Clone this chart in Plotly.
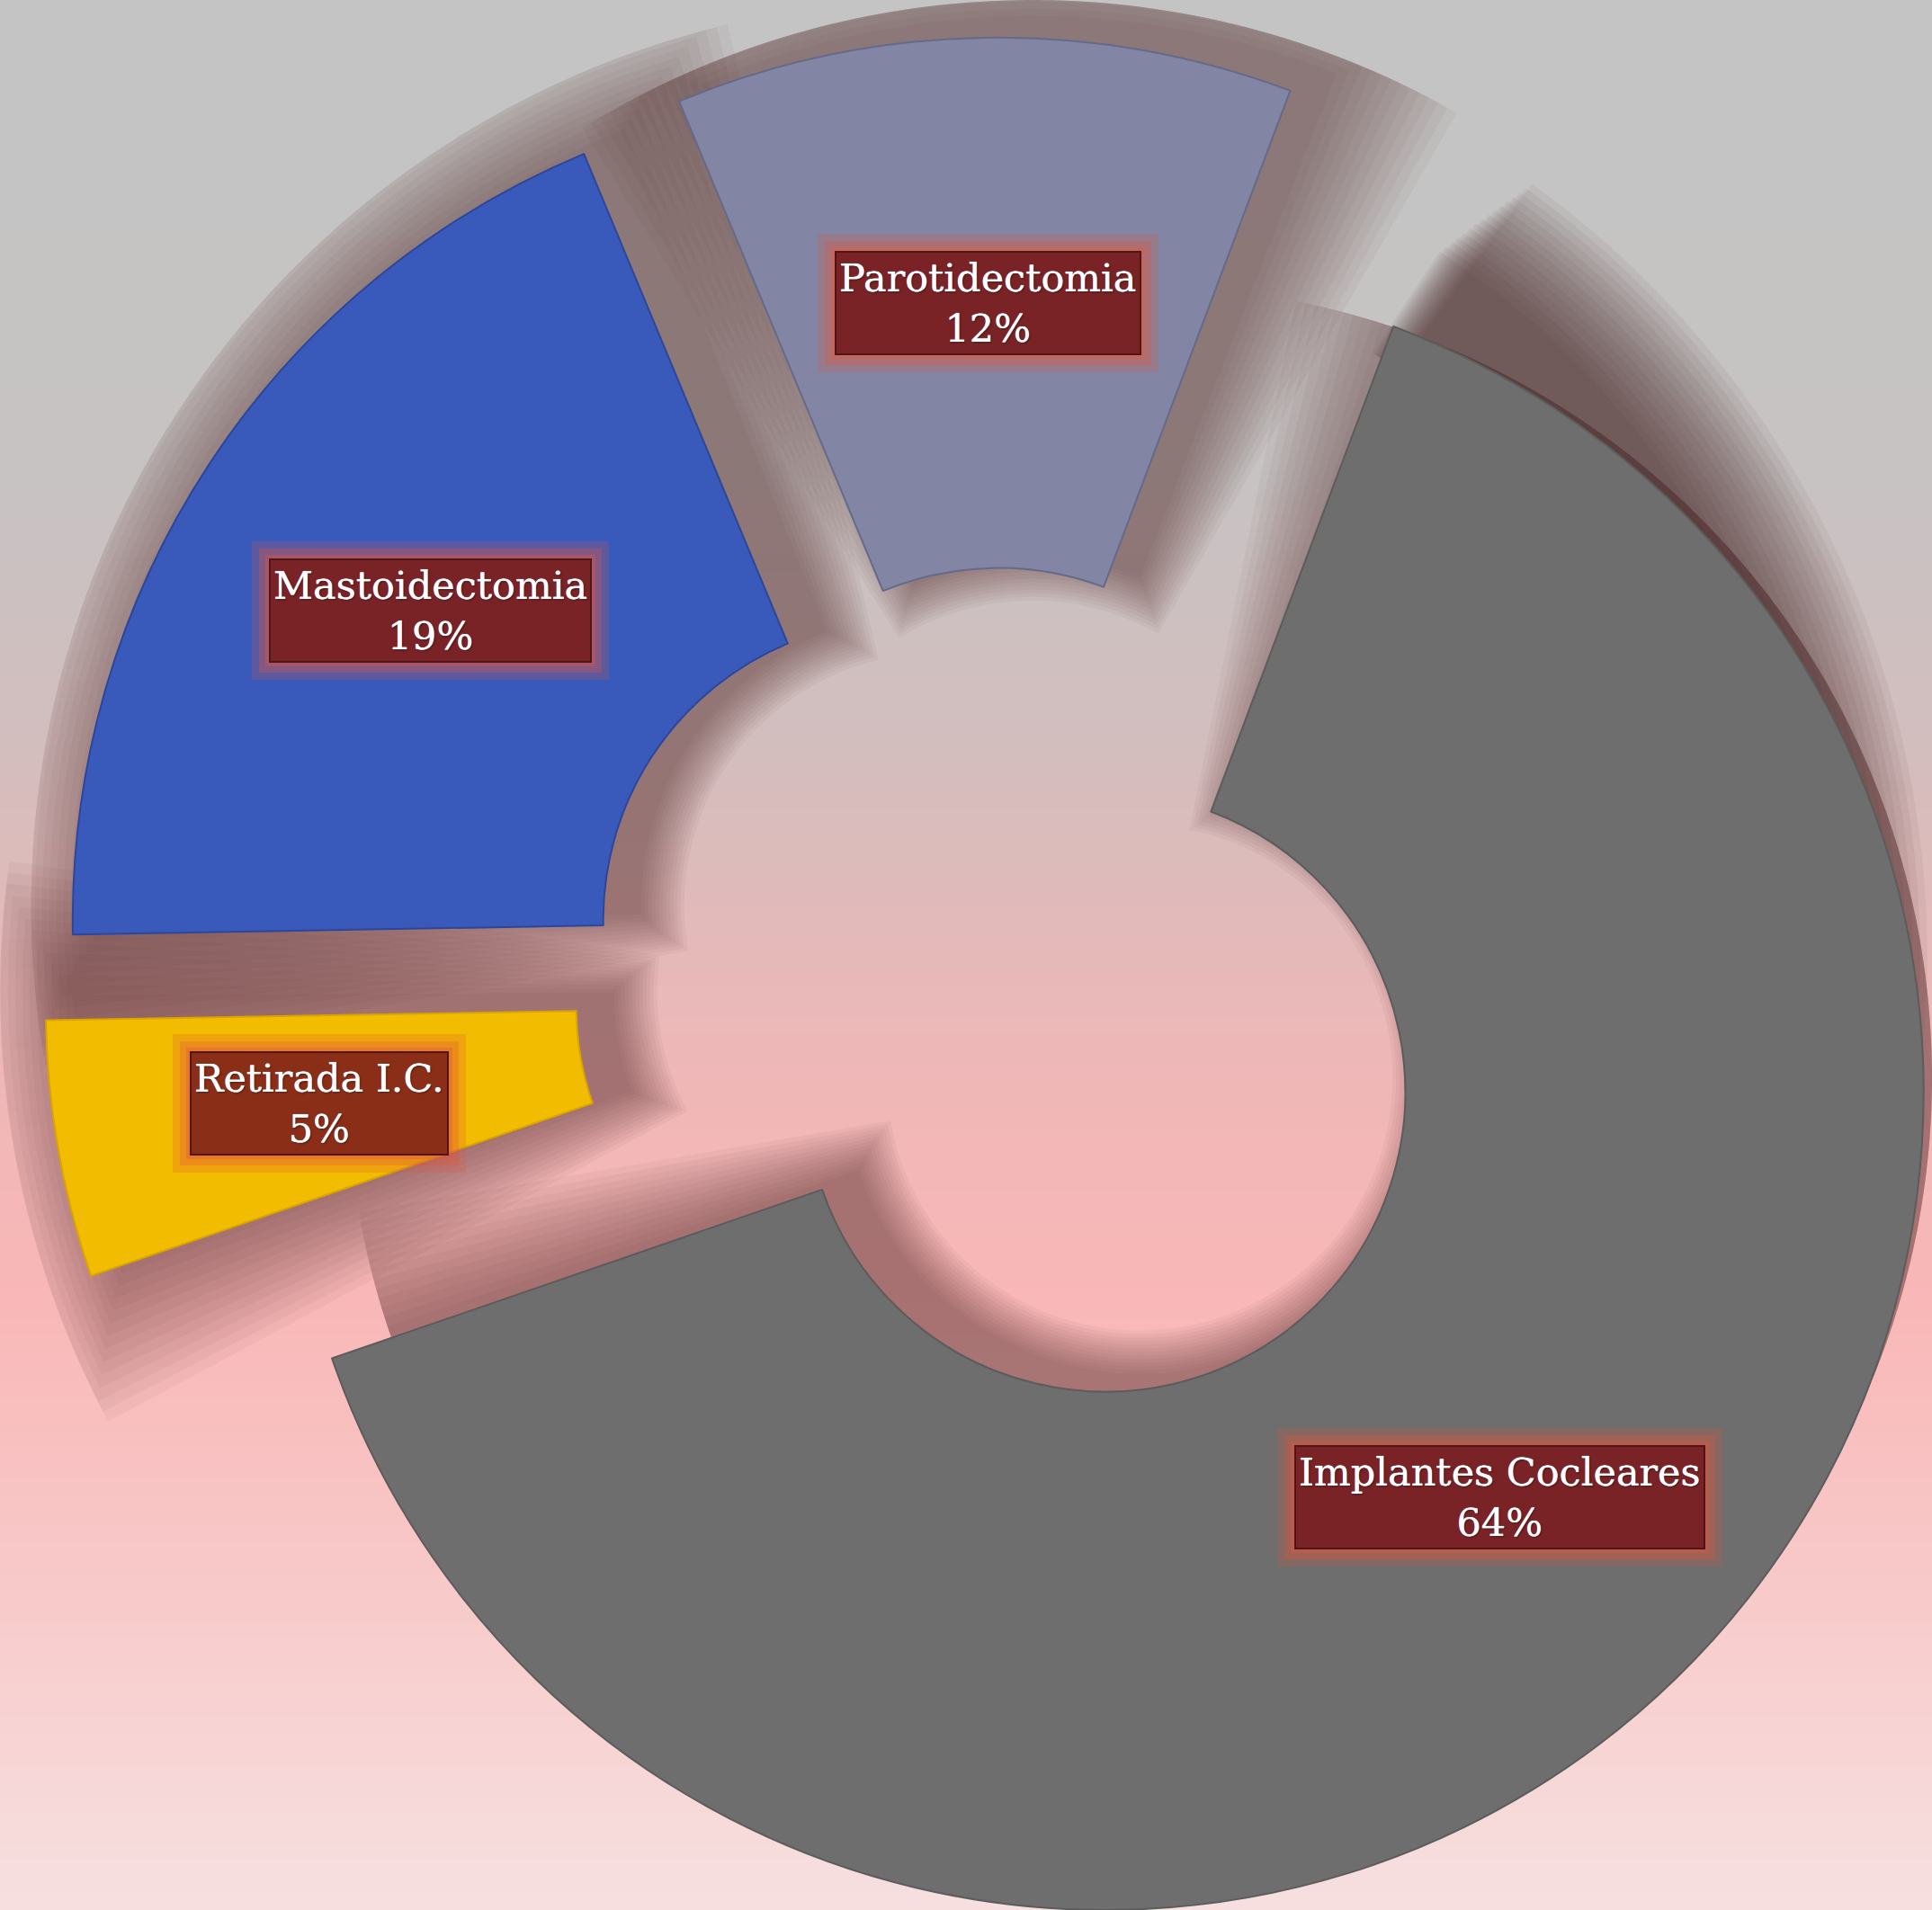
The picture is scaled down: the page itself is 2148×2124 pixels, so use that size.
import math
import plotly.graph_objects as go

# ---------------- data ----------------
labels = ["Implantes Cocleares", "Retirada I.C.", "Mastoidectomia", "Parotidectomia"]
values = [64, 5, 19, 12]

# ---------------- styles ----------------
pulls = [0.182, 0.152, 0.140, 0.140]
slice_colors = ["#6e6e6e", "#f2bc00", "#3a5abb", "#8286a4"]
edge_colors = ["#5c5c5c", "#d9a400", "#2c4699", "#666a8a"]
label_bg = ["#7a2327", "#8a2e18", "#7a2327", "#7a2327"]
start_angle = 20.6      # degrees clockwise from 12 o'clock
hole = 0.361

W, H = 2148, 2124
R = 923.0
CX, CY = 1112.0, 1094.0
SH_DX, SH_DY = 38.0, -16.0
SH_COLOR = "rgba(75,40,35,0.047)"

total = float(sum(values))


def domain_for(cx, cy, r):
    r_av = min(cx, W - cx, cy, H - cy, r)
    x0 = max(0.0, min(1.0, (cx - r_av) / W))
    x1 = max(0.0, min(1.0, (cx + r_av) / W))
    y0 = max(0.0, min(1.0, 1 - (cy + r_av) / H))
    y1 = max(0.0, min(1.0, 1 - (cy - r_av) / H))
    return dict(x=[x0, x1], y=[y0, y1]), r_av


def norm_rot(a):
    a = a % 360.0
    if a > 180:
        a -= 360.0
    return a


def ang_from(px, py, ox, oy):
    return math.degrees(math.atan2(px - ox, -(py - oy))) % 360.0


def shadow_pie(cx, cy, r_out_wanted, r_in, rot, span, alpha_color):
    dom, r_out = domain_for(cx, cy, r_out_wanted)
    span = max(0.5, min(359.0, span))
    return go.Pie(
        values=[span, 360 - span], labels=["a", "b"],
        sort=False, direction="clockwise", rotation=norm_rot(rot),
        hole=max(0.0, min(0.99, r_in / r_out)), domain=dom,
        marker=dict(colors=[alpha_color, "rgba(0,0,0,0)"], line=dict(width=0)),
        textinfo="none", hoverinfo="skip", showlegend=False,
    )


fig = go.Figure()

# geometry of every slice derived from the values
geo = []
acc = 0.0
for i, v in enumerate(values):
    span = v / total * 360.0
    start = start_angle + acc / total * 360.0
    mid = math.radians(start + span / 2)
    cx = CX + pulls[i] * R * math.sin(mid)
    cy = CY - pulls[i] * R * math.cos(mid)
    geo.append((start, span, mid, cx, cy))
    acc += v

# ---------- soft shadows (concentric layers) ----------
shadow_steps = list(range(104, 0, -8))
for i, v in enumerate(values):
    start, span, mid, cx, cy = geo[i]
    for e in shadow_steps:
        d = math.degrees(e / (0.7 * R))
        fig.add_trace(shadow_pie(cx + SH_DX, cy + SH_DY, R + e,
                                 max(0.0, hole * R - 0.5 * e),
                                 start - d, span + 2 * d, SH_COLOR))

# ---------- top-right spill of the big slice's shadow (its circle cannot fit the page) ----------
start, span, mid, cx, cy = geo[0]
bx, by = math.sin(mid), -math.cos(mid)
k = 210.0
ox, oy = cx - k * bx, cy - k * by
r_max = min(ox, W - ox, oy, H - oy)
px, py = cx + R * math.sin(math.radians(start)), cy - R * math.cos(math.radians(start))
th_s = ang_from(px, py, ox, oy)
th_e = 100.0
r_hole = 805.0
for j in range(16):
    rr = r_max - 8 * j
    s0 = th_s + 2.4 - 0.16 * j
    fig.add_trace(shadow_pie(ox, oy, rr, r_hole, s0, th_e - s0, "rgba(75,40,35,0.058)"))

# ---------- slices ----------
for i, v in enumerate(values):
    start, span, mid, cx, cy = geo[i]
    dom, r_out = domain_for(cx, cy, R)
    fig.add_trace(go.Pie(
        values=[v, total - v],
        labels=[labels[i], labels[i] + " "],
        sort=False, direction="clockwise",
        rotation=norm_rot(start),
        hole=min(0.99, hole * R / r_out),
        domain=dom,
        marker=dict(colors=[slice_colors[i], "rgba(0,0,0,0)"],
                    line=dict(color=[edge_colors[i], "rgba(0,0,0,0)"], width=[2, 0])),
        textinfo="none",
        hovertemplate=labels[i] + ": %d%%<extra></extra>" % v,
        showlegend=False,
    ))

# ---------- labels ----------
annotations = []
ring_mid = (1 + hole) / 2
for i, v in enumerate(values):
    start, span, mid, cx, cy = geo[i]
    lx = cx + ring_mid * R * math.sin(mid)
    ly = cy - ring_mid * R * math.cos(mid)
    txt = "%s<br>%d%%" % (labels[i], v)
    for pad, col in [(24, "rgba(225,85,60,0.22)"), (16, "rgba(225,85,60,0.3)"), (9, "rgba(225,85,60,0.35)")]:
        annotations.append(dict(
            x=lx / W, y=1 - ly / H, xref="paper", yref="paper",
            text=txt, showarrow=False, xanchor="center", yanchor="middle",
            font=dict(family="DejaVu Serif", size=43, color="rgba(0,0,0,0)"),
            bgcolor=col, borderpad=pad, borderwidth=0,
        ))
    annotations.append(dict(
        x=lx / W, y=1 - ly / H, xref="paper", yref="paper",
        text=txt, showarrow=False, xanchor="center", yanchor="middle",
        font=dict(family="DejaVu Serif", size=43, color="#ffffff",
                  shadow="0 0 0.8px #ffffff, 1px 1px 2px rgba(0,0,0,0.55)"),
        bgcolor=label_bg[i], bordercolor="#521517", borderwidth=2, borderpad=3,
    ))

# ---------- background gradient ----------
stops = [(0.0, (196, 196, 196)), (0.25, (199, 195, 195)), (0.40, (212, 189, 189)),
         (0.55, (238, 183, 183)), (0.68, (249, 183, 183)), (0.85, (248, 204, 204)),
         (1.0, (247, 224, 224))]


def grad(t):
    for (a, ca), (b, cb) in zip(stops[:-1], stops[1:]):
        if a <= t <= b:
            f = (t - a) / (b - a)
            return tuple(int(round(ca[n] + (cb[n] - ca[n]) * f)) for n in range(3))
    return stops[-1][1]


shapes = []
N = 120
for kk in range(N):
    t = (kk + 0.5) / N
    c = grad(t)
    shapes.append(dict(type="rect", xref="paper", yref="paper",
                       x0=0, x1=1, y0=1 - (kk + 1) / N - 0.001, y1=1 - kk / N + 0.001,
                       fillcolor="rgb(%d,%d,%d)" % c, line=dict(width=0), layer="below"))

fig.update_layout(
    width=W, height=H,
    margin=dict(l=0, r=0, t=0, b=0),
    paper_bgcolor="#c8c4c4",
    plot_bgcolor="rgba(0,0,0,0)",
    shapes=shapes,
    annotations=annotations,
    showlegend=False,
)

fig.write_html("out.html", config={"displayModeBar": False},
               post_script="document.body.style.margin='0';document.body.style.overflow='hidden';")
